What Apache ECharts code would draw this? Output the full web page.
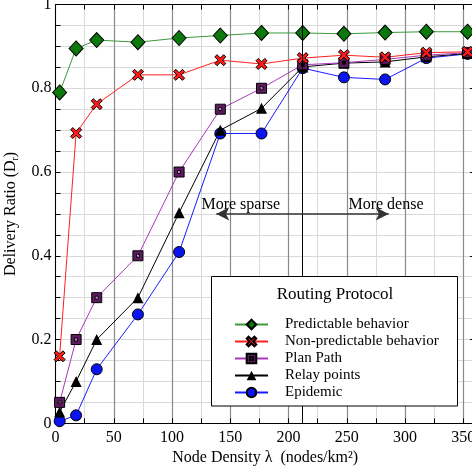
<!DOCTYPE html>
<html>
<head>
<meta charset="utf-8">
<script src="https://cdn.jsdelivr.net/npm/echarts@6/dist/echarts.min.js"></script>
<style>
  html, body { margin: 0; padding: 0; background: #fff; }
  #chart { width: 472px; height: 473px; }
</style>
</head>
<body>
<div id="chart"></div>
<script>
// Node density (nodes/km^2) for 1, 5, 10, 20 ... 100 nodes
const densities = [3.537, 17.684, 35.368, 70.736, 106.10, 141.47, 176.84, 212.21, 247.58, 282.94, 318.31, 353.68];

// Delivery ratio per routing protocol
const predictable    = [0.79, 0.895, 0.915, 0.91, 0.92, 0.926, 0.932, 0.932, 0.93, 0.933, 0.935, 0.935];
const nonPredictable = [0.16, 0.693, 0.762, 0.832, 0.832, 0.867, 0.858, 0.872, 0.879, 0.874, 0.885, 0.887];
const planPath       = [0.05, 0.2, 0.3, 0.4, 0.6, 0.75, 0.8, 0.856, 0.861, 0.869, 0.879, 0.885];
const relayPoints    = [0.027, 0.1, 0.2, 0.3, 0.503, 0.7, 0.752, 0.851, 0.86, 0.863, 0.875, 0.883];
const epidemic       = [0.005, 0.019, 0.129, 0.26, 0.409, 0.692, 0.692, 0.848, 0.826, 0.821, 0.872, 0.882];

const seriesNames = ['Predictable behavior', 'Non-predictable behavior', 'Plan Path', 'Relay points', 'Epidemic'];

// Density where the sparse / dense regimes split, and the arrow extent
const splitDensity = 212.21;
const arrowY = 0.5;
const arrowFrom = 138;
const arrowTo = 286;
const sparseLabel = { x: 159, y: 0.522, text: 'More sparse' };
const denseLabel  = { x: 283.7, y: 0.522, text: 'More dense' };

const FONT = 'Liberation Serif';

function pairs(ys) { return densities.map((x, i) => [x, ys[i]]); }

const xPath = 'path://M2,0 L5,3 L8,0 L10,2 L7,5 L10,8 L8,10 L5,7 L2,10 L0,8 L3,5 L0,2 Z';
const sqPath = 'path://M0,0 L10,0 L10,10 L0,10 Z M3.5,3.5 L3.5,6.5 L6.5,6.5 L6.5,3.5 Z';

const chart = echarts.init(document.getElementById('chart'), null, { renderer: 'canvas' });

const option = {
  backgroundColor: '#fff',
  animation: false,
  grid: { left: 55.5, top: 4.5, width: 419.4, height: 418.8, containLabel: false, outerBoundsMode: 'none' },
  xAxis: [
    {
      type: 'value', position: 'bottom', min: 0, max: 360, interval: 25,
      axisLine: { show: true, onZero: false, lineStyle: { color: '#000', width: 1 } },
      axisTick: { show: true, inside: true, length: 5, lineStyle: { color: '#000' } },
      axisLabel: {
        color: '#000', fontFamily: FONT, fontSize: 16, margin: 6,
        formatter: v => (v % 50 === 0 && v <= 350) ? String(v) : ''
      },
      splitLine: { show: true, lineStyle: { color: '#d9d9d9', width: 1 } },
      name: 'Node Density λ  (nodes/km²)',
      nameLocation: 'middle', nameGap: 17,
      nameTextStyle: { color: '#000', fontFamily: FONT, fontSize: 16, verticalAlign: 'top' }
    },
    {
      type: 'value', position: 'top', min: 0, max: 360, interval: 25,
      axisLine: { show: true, onZero: false, lineStyle: { color: '#000', width: 1 } },
      axisTick: { show: true, inside: true, length: 5, lineStyle: { color: '#000' } },
      axisLabel: { show: false },
      splitLine: { show: false }
    },
    {
      type: 'value', min: 0, max: 360, interval: 50,
      axisLine: { show: false }, axisTick: { show: false }, axisLabel: { show: false },
      splitLine: { show: true, lineStyle: { color: '#8a8a8a', width: 1.2 } }
    }
  ],
  yAxis: [
    {
      type: 'value', position: 'left', min: 0, max: 1, interval: 0.05,
      axisLine: { show: true, onZero: false, lineStyle: { color: '#000', width: 1 } },
      axisTick: { show: true, inside: true, length: 5, lineStyle: { color: '#000' } },
      axisLabel: {
        color: '#000', fontFamily: FONT, fontSize: 16, margin: 4,
        formatter: v => {
          if (Math.abs(v * 5 - Math.round(v * 5)) > 1e-6) return '';
          if (Math.abs(v - 1) < 1e-6) return '1';
          if (Math.abs(v) < 1e-6) return '0';
          return v.toFixed(1);
        }
      },
      splitLine: { show: true, lineStyle: { color: '#d9d9d9', width: 1 } },
      name: 'Delivery Ratio (D{sub|r})',
      nameLocation: 'middle', nameGap: 35,
      nameTextStyle: {
        color: '#000', fontFamily: FONT, fontSize: 16, lineHeight: 20,
        rich: { sub: { fontFamily: FONT, fontSize: 10, lineHeight: 10, verticalAlign: 'bottom', color: '#000' } }
      }
    },
    {
      type: 'value', position: 'right', min: 0, max: 1, interval: 0.2,
      axisLine: { show: true, onZero: false, lineStyle: { color: '#000', width: 1 } },
      axisTick: { show: true, inside: true, length: 5, lineStyle: { color: '#000' } },
      axisLabel: { show: false },
      splitLine: { show: false }
    }
  ],
  legend: {
    data: seriesNames,
    orient: 'vertical',
    left: 229, top: 312,
    itemWidth: 33, itemHeight: 12, itemGap: 2,
    z: 20,
    textStyle: { color: '#000', fontFamily: FONT, fontSize: 15, padding: [0, 0, 0, 12] }
  },
  graphic: [
    {
      type: 'rect', z: 15,
      shape: { x: 211.5, y: 276.5, width: 246, height: 129.5 },
      style: { fill: '#fff', stroke: '#000', lineWidth: 1 }
    },
    {
      type: 'text', z: 16,
      x: 335, y: 295,
      style: { text: 'Routing Protocol', fill: '#000', font: '17px "Liberation Serif"', textAlign: 'center', textVerticalAlign: 'middle' }
    }
  ],
  series: [
    {
      name: 'Epidemic', type: 'line', data: pairs(epidemic),
      symbol: 'circle', symbolSize: 11,
      lineStyle: { color: '#1a1aff', width: 1 },
      itemStyle: { color: '#0a14f0', borderColor: '#000', borderWidth: 1 },
      color: '#1a1aff'
    },
    {
      name: 'Relay points', type: 'line', data: pairs(relayPoints),
      symbol: 'triangle', symbolSize: 11,
      lineStyle: { color: '#000', width: 1 },
      itemStyle: { color: '#000', borderColor: '#000', borderWidth: 0 },
      color: '#000'
    },
    {
      name: 'Plan Path', type: 'line', data: pairs(planPath),
      symbol: sqPath, symbolSize: 10,
      lineStyle: { color: '#a838b8', width: 1 },
      itemStyle: { color: '#5e1a5e', borderColor: '#000', borderWidth: 1 },
      color: '#b878c0'
    },
    {
      name: 'Non-predictable behavior', type: 'line', data: pairs(nonPredictable),
      symbol: xPath, symbolSize: 11,
      lineStyle: { color: '#ff2020', width: 1 },
      itemStyle: { color: '#ff1a1a', borderColor: '#000', borderWidth: 1 },
      color: '#ff2020',
      markLine: {
        silent: true, symbol: ['none', 'none'], label: { show: false },
        lineStyle: { color: '#000', width: 1, type: 'solid' },
        data: [{ xAxis: splitDensity }]
      }
    },
    {
      name: 'Predictable behavior', type: 'line', data: pairs(predictable),
      symbol: 'diamond', symbolSize: [14, 15],
      lineStyle: { color: '#3a9a3a', width: 1 },
      itemStyle: { color: '#0b780b', borderColor: '#000', borderWidth: 1 },
      color: '#3a9a3a',
      markLine: {
        silent: true, symbol: ['arrow', 'arrow'], symbolSize: [10, 13],
        label: { show: false },
        lineStyle: { color: '#333', width: 1.5, type: 'solid' },
        data: [[{ coord: [arrowFrom, arrowY] }, { coord: [arrowTo, arrowY] }]]
      },
      markPoint: {
        silent: true, symbol: 'circle', symbolSize: 0,
        label: { show: true, position: 'inside', color: '#000', fontFamily: FONT, fontSize: 16, formatter: p => p.name },
        data: [
          { name: sparseLabel.text, coord: [sparseLabel.x, sparseLabel.y] },
          { name: denseLabel.text, coord: [denseLabel.x, denseLabel.y] }
        ]
      }
    }
  ]
};

chart.setOption(option);
</script>
</body>
</html>
